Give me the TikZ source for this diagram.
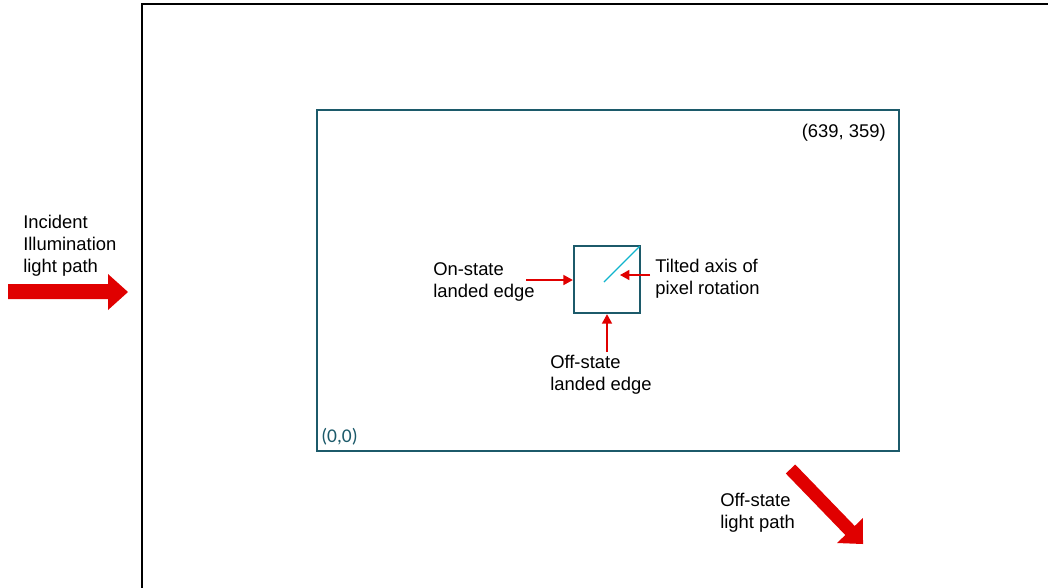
\documentclass[tikz,border=0pt]{standalone}
\usepackage{fontspec}
\setmainfont{Liberation Sans}
\newfontfamily\carl{Carlito}
\usetikzlibrary{arrows.meta}
\definecolor{dmdred}{HTML}{E00000}
\definecolor{dmdteal}{HTML}{1C5A6A}
\definecolor{dmdcyan}{HTML}{10B4CC}
\tikzset{
  lbl/.style={anchor=north west, inner sep=0pt, align=left, font=\fontsize{13.8}{16.5}\selectfont},
  frameline/.style={draw=dmdteal, line width=1.6pt},
  redarrow/.style={draw=dmdred, line width=1pt, -{Triangle[length=7pt,width=7.5pt]}, color=dmdred},
  bigarrow/.style={fill=dmdred, draw=none}
}
\begin{document}
\begin{tikzpicture}[x=0.75pt,y=-0.75pt]
\useasboundingbox (0,0) rectangle (1048,587);
\begin{scope}
\clip (0,0) rectangle (1048,587);
% outer frame
\draw[line width=1.5pt, black] (142,595) -- (142,4) -- (1060,4);
\end{scope}
% array frame
\node[frameline, minimum width=436.5pt, minimum height=255.75pt, inner sep=0pt, anchor=north west] (array) at (316,109) {};
\node[anchor=north east, inner sep=0pt, font=\fontsize{13.8}{16.5}\selectfont] (ur) at (886,124) {(639, 359)};
\node[anchor=north west, inner sep=0pt, text=dmdteal, font=\carl\fontsize{14.6}{16}\selectfont] (ll) at (321,428) {(0,0)};
% pixel
\node[draw=dmdteal, line width=1.8pt, minimum width=49.5pt, minimum height=50.25pt, inner sep=0pt] (pix) at (607,279.5) {};
\coordinate (axs) at (604,282);
\draw[dmdcyan, line width=0.9pt] (axs) -- ([shift={(-1.5,1.5)}]pix.north east);
% labels
\node[lbl] (inc) at (23,215) {Incident\\Illumination\\light path};
\node[lbl] (onl) at (433,262) {On-state\\landed edge};
\node[lbl] (tilt) at (655,259) {Tilted axis of\\pixel rotation};
\node[lbl] (offl) at (550,355) {Off-state\\landed edge};
\node[lbl] (offp) at (720,493) {Off-state\\light path};
% small arrows
\coordinate (a1) at (526,280);
\draw[redarrow] (a1) -- (pix.west |- a1);
\coordinate (a2s) at (650,275);
\coordinate (a2e) at (620,275);
\draw[redarrow] (a2s) -- (a2e);
\coordinate (a3) at (607,352);
\draw[redarrow] (a3) -- (pix.south);
% big arrows
\fill[bigarrow] (8,284) -- (108,284) -- (108,274) -- (128,292) -- (108,310) -- (108,299) -- (8,299) -- cycle;
\fill[bigarrow] (785.8,473.5) -- (845.3,535.0) -- (837.1,543.0) -- (863,544) -- (862.9,518.0) -- (854.7,526.0) -- (795.2,464.5) -- cycle;
\end{tikzpicture}
\end{document}
